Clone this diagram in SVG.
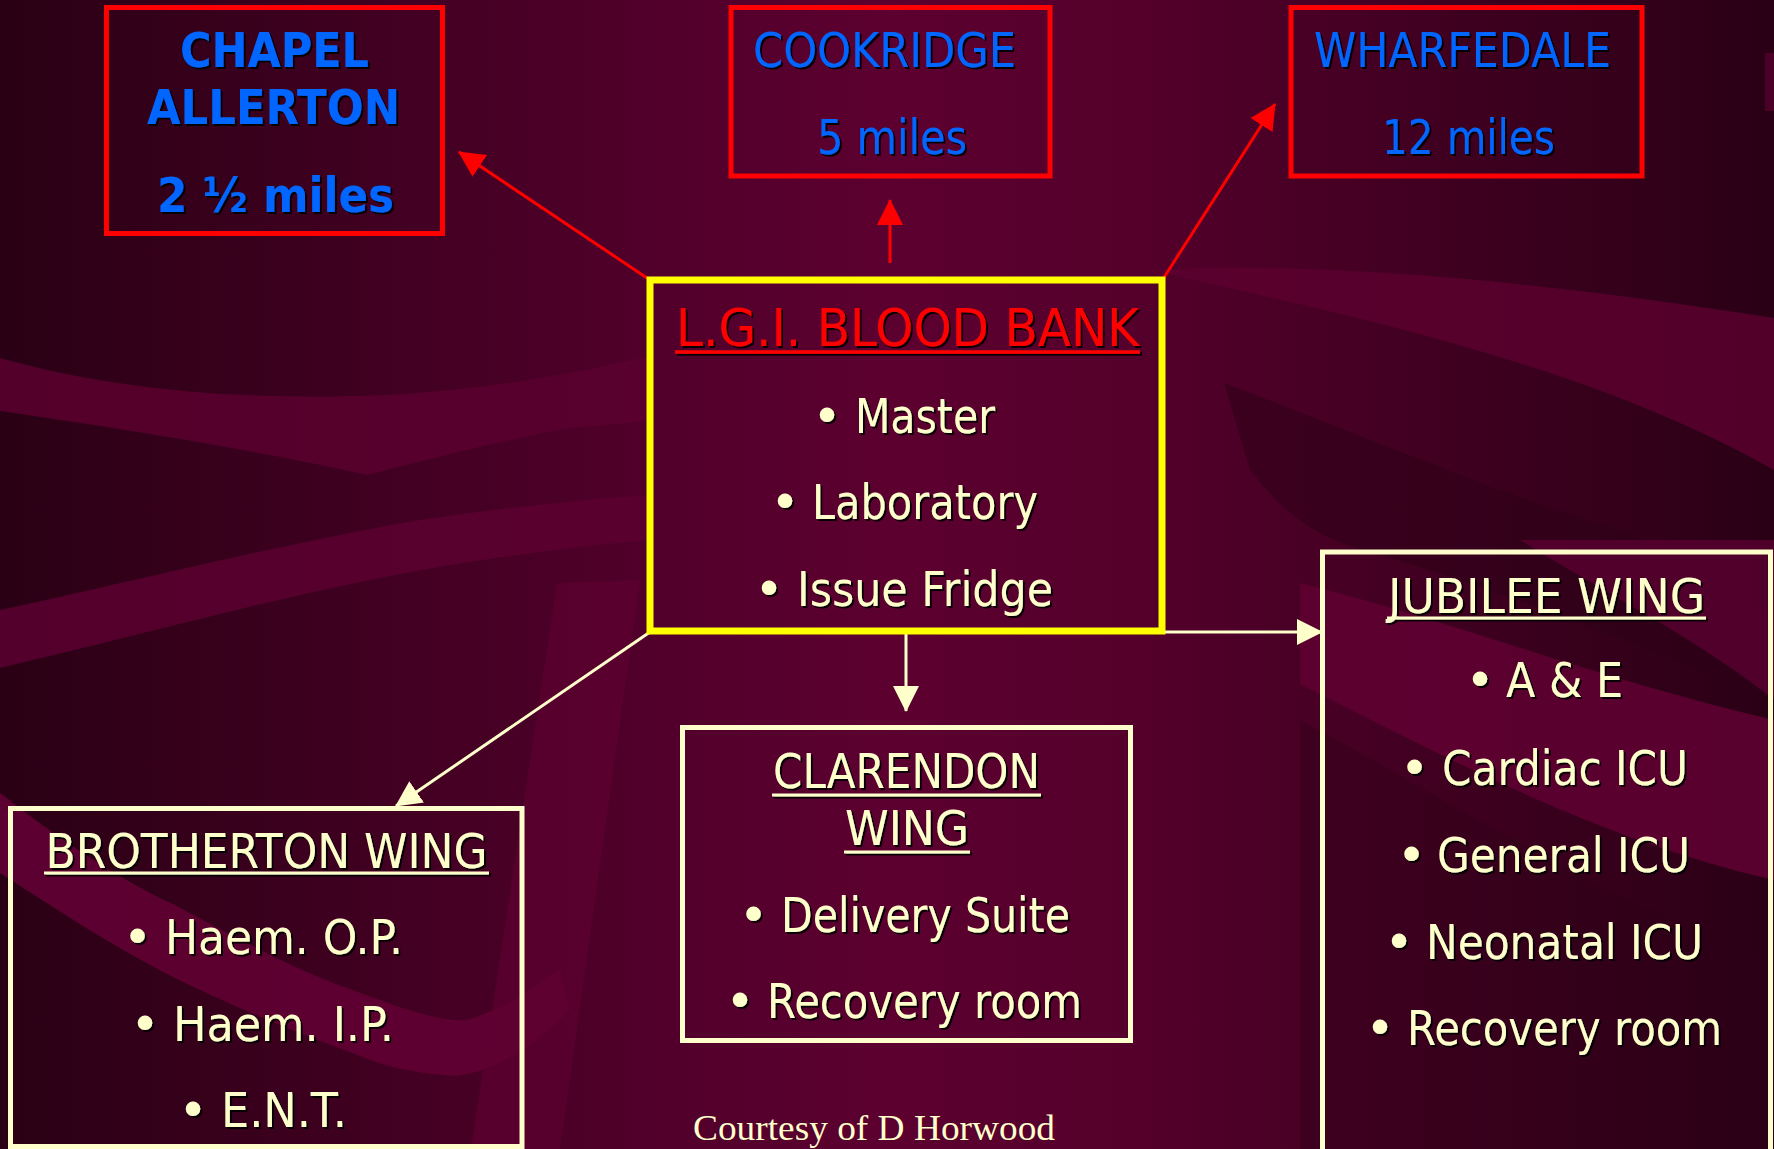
<svg xmlns="http://www.w3.org/2000/svg" width="1774" height="1149" viewBox="0 0 1774 1149">
<defs>
  <linearGradient id="bg" x1="0" y1="0" x2="1" y2="0">
    <stop offset="0" stop-color="#2a0014"/>
    <stop offset="0.38" stop-color="#52002b"/>
    <stop offset="0.5" stop-color="#5c002f"/>
    <stop offset="0.62" stop-color="#56002c"/>
    <stop offset="1" stop-color="#2a0015"/>
  </linearGradient>
  <filter id="sh" x="-5%" y="-10%" width="110%" height="130%">
    <feDropShadow dx="2" dy="2" stdDeviation="0.6" flood-color="#000000" flood-opacity="0.9"/>
  </filter>
  <marker id="arrRed" viewBox="0 0 26 26" refX="25" refY="13" markerWidth="26" markerHeight="26" markerUnits="userSpaceOnUse" orient="auto">
    <path d="M0,0 L26,13 L0,26 Z" fill="#ff0000"/>
  </marker>
  <marker id="arrCream" viewBox="0 0 26 26" refX="25" refY="13" markerWidth="26" markerHeight="26" markerUnits="userSpaceOnUse" orient="auto">
    <path d="M0,0 L26,13 L0,26 Z" fill="#ffffcc"/>
  </marker>
</defs>
<style>
  .redbox { fill: none; stroke: #ff0000; stroke-width: 5; }
  .creambox { fill: none; stroke: #ffffcc; stroke-width: 5; }
  .yellowbox { fill: none; stroke: #ffff00; stroke-width: 7; }
  .blue { fill: #0066ff; font-family: "DejaVu Sans", "Liberation Sans", sans-serif; font-size: 48px; }
  .blueb { fill: #0066ff; font-family: "DejaVu Sans", "Liberation Sans", sans-serif; font-size: 48px; font-weight: bold; }
  .cream { fill: #ffffcc; font-family: "DejaVu Sans", "Liberation Sans", sans-serif; font-size: 48px; }
  .bul { fill: #ffffcc; font-family: "DejaVu Sans", "Liberation Sans", sans-serif; font-size: 50px; text-anchor: middle; }
  .title { fill: #ff0000; font-family: "DejaVu Sans", "Liberation Sans", sans-serif; font-size: 52px; }
  .ulc { stroke: #ffffcc; stroke-width: 3; }
  .ulr { stroke: #ff0000; stroke-width: 3.5; }
  .shadow { filter: url(#sh); }
  .credit { fill: #ffffcc; font-family: "Liberation Serif", "Times New Roman", serif; font-size: 36px; }
  .lnRed { stroke: #ff0000; stroke-width: 3; fill: none; marker-end: url(#arrRed); }
  .lnCream { stroke: #ffffcc; stroke-width: 3; fill: none; marker-end: url(#arrCream); }
</style>

<!-- background -->
<g id="background">
  <rect x="0" y="0" width="1774" height="1149" fill="url(#bg)"/>
  <path d="M0,358 C120,392 260,402 402,394 C500,388 580,372 650,356 L650,420 C620,425 600,424 560,430 C480,445 420,462 367,475 C300,460 200,440 0,411 Z" fill="#5a002f" opacity="0.85"/>
  <path d="M0,610 C120,585 260,548 420,520 C500,508 580,500 650,495 L650,540 C560,548 470,560 380,578 C250,604 120,640 0,668 Z" fill="#5c0030" opacity="0.85"/>
  <path d="M0,793 C60,840 120,880 175,905 C240,940 300,972 350,989 C400,1008 440,1022 466,1020 C500,1012 530,990 560,970 L570,1010 C540,1040 500,1072 455,1076 C400,1072 380,1064 350,1052 C290,1030 230,1005 175,978 C110,945 50,905 0,873 Z" fill="#600033" opacity="0.9"/>
  <path d="M557,583 L640,580 L560,1149 L471,1149 Z" fill="#5e0031" opacity="0.7"/>
  <path d="M1150,270 C1300,262 1500,275 1774,318 L1774,470 C1650,400 1500,350 1282,300 Z" fill="#5c0030" opacity="0.8"/>
  <path d="M1224,383 C1350,430 1500,495 1620,530 C1680,560 1740,600 1774,620 L1774,700 C1650,650 1500,590 1380,555 C1320,540 1290,520 1250,470 Z" fill="#2e0018" opacity="0.55"/>
  <path d="M1300,583 C1450,620 1600,680 1774,720 L1774,880 C1600,840 1450,760 1300,684 Z" fill="#600033" opacity="0.85"/>
  <path d="M1520,540 L1774,540 L1774,700 C1700,640 1600,590 1520,540 Z" fill="#600033" opacity="0.7"/>
  <path d="M1300,720 C1450,800 1600,900 1774,960 L1774,1149 L1300,1149 Z" fill="#2e0018" opacity="0.35"/>
  <rect x="1765" y="53" width="9" height="58" fill="#4a0027"/>
</g>

<!-- connectors -->
<g id="connectors">
  <line class="lnRed" x1="650" y1="280" x2="459" y2="152"/>
  <line class="lnRed" x1="890" y1="263" x2="890" y2="200"/>
  <line class="lnRed" x1="1163" y1="279" x2="1275" y2="104"/>
  <line class="lnCream" x1="650" y1="632" x2="396" y2="806"/>
  <line class="lnCream" x1="906" y1="634" x2="906" y2="711"/>
  <line class="lnCream" x1="1165" y1="632" x2="1322" y2="632"/>
</g>

<!-- nodes -->
<g id="chapel-allerton">
  <rect class="redbox" x="106.5" y="7.5" width="336" height="226"/>
  <g class="shadow">
    <text class="blueb" x="180" y="67" textLength="189" lengthAdjust="spacingAndGlyphs">CHAPEL</text>
    <text class="blueb" x="147" y="124" textLength="253" lengthAdjust="spacingAndGlyphs">ALLERTON</text>
    <text class="blueb" x="157" y="212" textLength="237" lengthAdjust="spacingAndGlyphs">2 ½ miles</text>
  </g>
</g>

<g id="cookridge">
  <rect class="redbox" x="731" y="7.5" width="319" height="168.5"/>
  <g class="shadow">
    <text class="blue" x="753" y="67" textLength="263" lengthAdjust="spacingAndGlyphs">COOKRIDGE</text>
    <text class="blue" x="817" y="154" textLength="150" lengthAdjust="spacingAndGlyphs">5 miles</text>
  </g>
</g>

<g id="wharfedale">
  <rect class="redbox" x="1291" y="7.5" width="351" height="168.5"/>
  <g class="shadow">
    <text class="blue" x="1314" y="67" textLength="297" lengthAdjust="spacingAndGlyphs">WHARFEDALE</text>
    <text class="blue" x="1382" y="154" textLength="173" lengthAdjust="spacingAndGlyphs">12 miles</text>
  </g>
</g>

<g id="lgi-blood-bank">
  <rect class="yellowbox" x="650" y="280" width="512" height="351"/>
  <g class="shadow">
    <text class="title" x="676" y="346" textLength="463" lengthAdjust="spacingAndGlyphs">L.G.I. BLOOD BANK</text>
    <line class="ulr" x1="675" y1="352" x2="1140" y2="352"/>
    <text class="bul" x="827" y="433">•</text>
    <text class="cream" x="855" y="433" textLength="140" lengthAdjust="spacingAndGlyphs">Master</text>
    <text class="bul" x="785" y="519">•</text>
    <text class="cream" x="812" y="519" textLength="226" lengthAdjust="spacingAndGlyphs">Laboratory</text>
    <text class="bul" x="769" y="606">•</text>
    <text class="cream" x="797" y="606" textLength="256" lengthAdjust="spacingAndGlyphs">Issue Fridge</text>
  </g>
</g>

<g id="clarendon-wing">
  <rect class="creambox" x="682.5" y="727.5" width="448" height="313"/>
  <g class="shadow">
    <text class="cream" x="773" y="788" textLength="267" lengthAdjust="spacingAndGlyphs">CLARENDON</text>
    <line class="ulc" x1="772" y1="795" x2="1041" y2="795"/>
    <text class="cream" x="845" y="845" textLength="124" lengthAdjust="spacingAndGlyphs">WING</text>
    <line class="ulc" x1="844" y1="852" x2="970" y2="852"/>
    <text class="bul" x="753.5" y="932">•</text>
    <text class="cream" x="781" y="932" textLength="289" lengthAdjust="spacingAndGlyphs">Delivery Suite</text>
    <text class="bul" x="740" y="1018">•</text>
    <text class="cream" x="767" y="1018" textLength="315" lengthAdjust="spacingAndGlyphs">Recovery room</text>
  </g>
</g>

<g id="brotherton-wing">
  <rect class="creambox" x="10.5" y="808.5" width="511.5" height="338"/>
  <g class="shadow">
    <text class="cream" x="45.5" y="868" textLength="442" lengthAdjust="spacingAndGlyphs">BROTHERTON WING</text>
    <line class="ulc" x1="44" y1="873" x2="489" y2="873"/>
    <text class="bul" x="137.5" y="954">•</text>
    <text class="cream" x="165" y="954" textLength="238" lengthAdjust="spacingAndGlyphs">Haem. O.P.</text>
    <text class="bul" x="145" y="1041">•</text>
    <text class="cream" x="173" y="1041" textLength="221" lengthAdjust="spacingAndGlyphs">Haem. I.P.</text>
    <text class="bul" x="193" y="1127">•</text>
    <text class="cream" x="221" y="1127" textLength="126" lengthAdjust="spacingAndGlyphs">E.N.T.</text>
  </g>
</g>

<g id="jubilee-wing">
  <rect class="creambox" x="1322.5" y="552" width="448" height="620"/>
  <g class="shadow">
    <text class="cream" x="1388" y="612.6" textLength="317" lengthAdjust="spacingAndGlyphs">JUBILEE WING</text>
    <line class="ulc" x1="1387" y1="618" x2="1706" y2="618"/>
    <text class="bul" x="1480" y="697">•</text>
    <text class="cream" x="1506" y="697" textLength="117" lengthAdjust="spacingAndGlyphs">A &amp; E</text>
    <text class="bul" x="1414.5" y="785">•</text>
    <text class="cream" x="1442" y="785" textLength="246" lengthAdjust="spacingAndGlyphs">Cardiac ICU</text>
    <text class="bul" x="1411.5" y="872">•</text>
    <text class="cream" x="1437" y="872" textLength="253" lengthAdjust="spacingAndGlyphs">General ICU</text>
    <text class="bul" x="1399" y="959">•</text>
    <text class="cream" x="1426" y="959" textLength="277" lengthAdjust="spacingAndGlyphs">Neonatal ICU</text>
    <text class="bul" x="1380" y="1045">•</text>
    <text class="cream" x="1407" y="1045" textLength="315" lengthAdjust="spacingAndGlyphs">Recovery room</text>
  </g>
</g>

<g id="credit">
  <text class="credit" x="693" y="1140" textLength="362" lengthAdjust="spacingAndGlyphs">Courtesy of D Horwood</text>
</g>
</svg>
